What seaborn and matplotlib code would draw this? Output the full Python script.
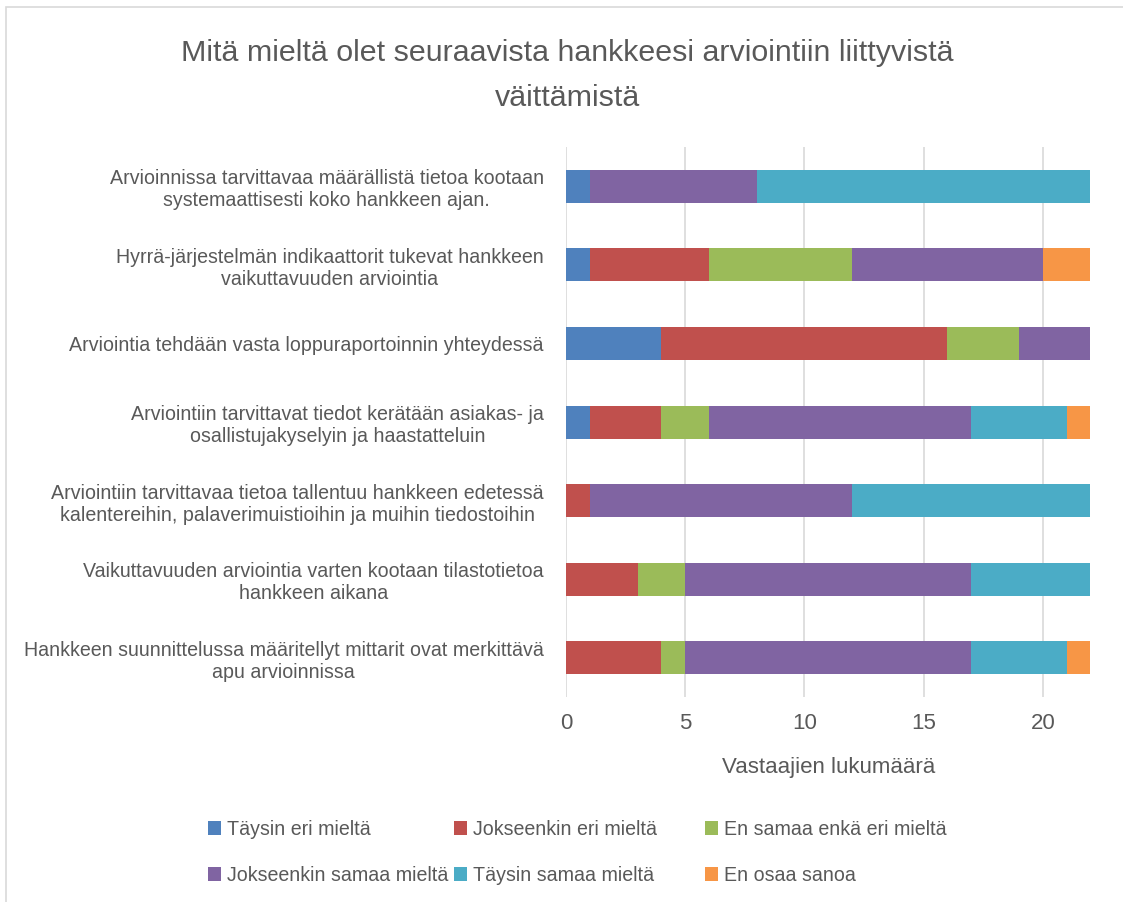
import numpy as np
import pandas as pd
import matplotlib
matplotlib.use("Agg")
import matplotlib.pyplot as plt
import seaborn as sns
from matplotlib.patches import Patch, Rectangle

statements = [
    "Arvioinnissa tarvittavaa määrällistä tietoa kootaan\nsystemaattisesti koko hankkeen ajan.",
    "Hyrrä-järjestelmän indikaattorit tukevat hankkeen\nvaikuttavuuden arviointia",
    "Arviointia tehdään vasta loppuraportoinnin yhteydessä",
    "Arviointiin tarvittavat tiedot kerätään asiakas- ja\nosallistujakyselyin ja haastatteluin",
    "Arviointiin tarvittavaa tietoa tallentuu hankkeen edetessä\nkalentereihin, palaverimuistioihin ja muihin tiedostoihin",
    "Vaikuttavuuden arviointia varten kootaan tilastotietoa\nhankkeen aikana",
    "Hankkeen suunnittelussa määritellyt mittarit ovat merkittävä\napu arvioinnissa",
]

answers = ["Täysin eri mieltä", "Jokseenkin eri mieltä", "En samaa enkä eri mieltä",
           "Jokseenkin samaa mieltä", "Täysin samaa mieltä", "En osaa sanoa"]

taysin_eri = [1, 1, 4, 1, 0, 0, 0]
jokseenkin_eri = [0, 5, 12, 3, 1, 3, 4]
en_samaa = [0, 6, 3, 2, 0, 2, 1]
jokseenkin_samaa = [7, 8, 3, 11, 11, 12, 12]
taysin_samaa = [14, 0, 0, 4, 10, 5, 4]
en_osaa = [0, 2, 0, 1, 0, 0, 1]

colors = ["#4F81BD", "#C0504D", "#9BBB59", "#8064A2", "#4BACC6", "#F79646"]

sns.set_theme(style="white")
plt.rcParams['font.family'] = ['Liberation Sans Narrow', 'Liberation Sans', 'DejaVu Sans']
txt = "#595959"

df = pd.DataFrame({
    "statement": statements,
    answers[0]: taysin_eri,
    answers[1]: jokseenkin_eri,
    answers[2]: en_samaa,
    answers[3]: jokseenkin_samaa,
    answers[4]: taysin_samaa,
    answers[5]: en_osaa,
})
cum = df[answers].cumsum(axis=1)

fig = plt.figure(figsize=(11.23, 9.02), dpi=100)
ax = fig.add_axes([0.504, 0.227, 0.467, 0.61])

# stacking: draw cumulative totals from the widest down
for i in range(len(answers) - 1, -1, -1):
    sns.barplot(x=cum[answers[i]], y=df["statement"], color=colors[i],
                orient="h", width=0.42, ax=ax, saturation=1, linewidth=0)

ax.set_xlim(0, 22)
ax.set_xticks([0, 5, 10, 15, 20])
ax.grid(axis="x", color="#D9D9D9", linewidth=1.2)
ax.set_axisbelow(True)
for s in ax.spines.values():
    s.set_visible(False)
ax.tick_params(axis="x", labelsize=16, colors=txt, length=0, pad=11)
ax.tick_params(axis="y", labelsize=14.1, colors=txt, length=0, pad=16)
for lab in ax.get_yticklabels():
    lab.set_multialignment("center")
ax.set_ylabel("")
ax.set_xlabel("Vastaajien lukumäärä", fontsize=16, color=txt, labelpad=17)

fig.suptitle("Mitä mieltä olet seuraavista hankkeesi arviointiin liittyvistä\nväittämistä",
             fontsize=21.9, color=txt, y=0.957, x=0.505, linespacing=1.8)

# legend: three columns placed like the original (row-wise order)
handles = [Patch(facecolor=c, edgecolor="none") for c in colors]
col_x = [0.1692, 0.3883, 0.6118]
for c in range(3):
    idx = [c, c + 3]
    fig.legend([handles[k] for k in idx], [answers[k] for k in idx],
               loc="center left", bbox_to_anchor=(col_x[c], 0.055), frameon=False,
               fontsize=14.1, labelcolor=txt, handlelength=0.7, handleheight=0.7,
               handletextpad=0.3, labelspacing=1.35)

fig.patches.append(Rectangle((0.005, -0.01), 1.2, 1.002, transform=fig.transFigure,
                             fill=False, edgecolor="#D9D9D9", linewidth=1.2))

fig.savefig("out.png", dpi=100)
